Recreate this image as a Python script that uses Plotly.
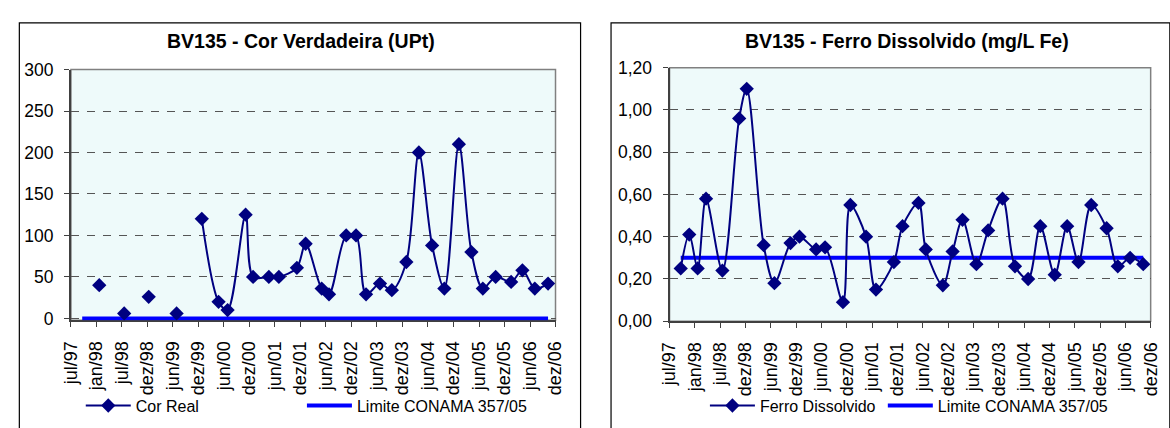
import pandas as pd
import plotly.graph_objects as go

# Sampling dates shared by both parameters
datas = [
    "1997-09-19", "1997-11-19", "1998-01-18", "1998-03-19", "1998-07-14",
    "1998-11-11", "1999-01-04", "1999-05-05", "1999-07-21", "1999-11-13",
    "2000-01-16", "2000-05-14", "2000-07-17", "2000-11-22", "2001-01-14",
    "2001-05-06", "2001-07-16", "2001-11-21", "2002-01-22", "2002-05-16",
    "2002-07-07", "2002-11-06", "2003-01-15", "2003-03-27", "2003-07-04",
    "2003-09-26", "2004-01-07", "2004-04-05", "2004-07-08", "2004-10-03",
    "2005-01-14", "2005-04-13", "2005-07-03", "2005-10-02", "2006-01-20",
    "2006-04-10", "2006-07-07", "2006-10-09",
]

# Cor verdadeira (UPt); None = not measured
cor_real = [
    None, None, 40, None, 6, None, 26, None, 6, None,
    120, 20, 10, 125, 50, 50, 50, 61, 90, 36,
    29, 100, 100, 29, 42, 34, 68, 200, 88, 36,
    210, 80, 36, 50, 44, 58, 36, 42,
]

# Ferro dissolvido (mg/L Fe)
ferro_dissolvido = [
    0.25, 0.41, 0.25, 0.58, 0.24, 0.96, 1.10, 0.36, 0.18, 0.37,
    0.40, 0.34, 0.35, 0.09, 0.55, 0.40, 0.15, 0.28, 0.45, 0.56,
    0.34, 0.17, 0.33, 0.48, 0.27, 0.43, 0.58, 0.26, 0.20, 0.45,
    0.22, 0.45, 0.28, 0.55, 0.44, 0.26, 0.30, 0.27,
]

# CONAMA 357/05 limits as plotted
limite_cor = [0] * len(datas)
limite_ferro = [0.30] * len(datas)

# Axis labels
rotulos_x = [
    "jul/97", "jan/98", "jul/98", "dez/98", "jun/99", "dez/99", "jun/00",
    "dez/00", "jun/01", "dez/01", "jun/02", "dez/02", "jun/03", "dez/03",
    "jun/04", "dez/04", "jun/05", "dez/05", "jun/06", "dez/06",
]
ticks_cor = [0, 50, 100, 150, 200, 250, 300]
ticks_ferro = [0, 0.2, 0.4, 0.6, 0.8, 1.0, 1.2]
rotulos_ferro = ["0,00", "0,20", "0,40", "0,60", "0,80", "1,00", "1,20"]

W, H = 1170, 428
FONT = "Liberation Sans, Arial, sans-serif"
NAVY = "#000080"
BLUE = "#0000FF"
BG = "#EEFAFA"

# Evenly spaced date ticks between the first and last label
inicio = pd.Timestamp("1997-07-01")
fim = pd.Timestamp("2006-12-01")
passo = (fim - inicio) / (len(rotulos_x) - 1)
ticks_x = [(inicio + i * passo).strftime("%Y-%m-%d %H:%M") for i in range(len(rotulos_x))]


def px_x(v):
    return v / W


def px_y(v):
    return (H - v) / H


fig = go.Figure()

# ---- left panel: Cor Verdadeira ----
fig.add_trace(go.Scatter(
    x=datas, y=limite_cor, mode="lines", name="Limite CONAMA 357/05",
    line=dict(color=BLUE, width=4), xaxis="x", yaxis="y",
    legend="legend2", hoverinfo="skip",
))
fig.add_trace(go.Scatter(
    x=datas, y=cor_real, mode="lines+markers", name="Cor Real",
    line=dict(color=NAVY, width=2, shape="spline", smoothing=0.9),
    marker=dict(symbol="diamond", size=11, color=NAVY),
    connectgaps=False, xaxis="x", yaxis="y",
    legend="legend", cliponaxis=False,
))

# ---- right panel: Ferro Dissolvido ----
fig.add_trace(go.Scatter(
    x=datas, y=limite_ferro, mode="lines", name="Limite CONAMA 357/05",
    line=dict(color=BLUE, width=4), xaxis="x2", yaxis="y2",
    legend="legend4", hoverinfo="skip",
))
fig.add_trace(go.Scatter(
    x=datas, y=ferro_dissolvido, mode="lines+markers", name="Ferro Dissolvido",
    line=dict(color=NAVY, width=2, shape="spline", smoothing=0.9),
    marker=dict(symbol="diamond", size=11, color=NAVY),
    xaxis="x2", yaxis="y2",
    legend="legend3",
))

# plot-area geometry (pixels); the left panel reaches a little below zero
# so the full width of the limit line at 0 stays visible
L1, R1, T1, B1 = 62, 555, 62.5, 325.5
Y1_MIN = -2.3
L2, R2, T2, B2 = 671, 1160.5, 60.5, 326.5

xcommon = dict(
    type="date", tickvals=ticks_x, ticktext=rotulos_x, tickangle=-90,
    range=[ticks_x[0], ticks_x[-1]], showgrid=False, zeroline=False,
    ticks="outside", ticklen=5, tickwidth=1, tickcolor="#404040",
    showline=True, linecolor="#404040", linewidth=1.5,
    ticklabelstandoff=7, layer="below traces",
    tickfont=dict(family=FONT, size=18, color="black"),
)
ycommon = dict(
    showgrid=True, gridcolor="#555555", gridwidth=1.3, griddash="8px,8px",
    zeroline=False, ticks="outside", ticklen=5, tickwidth=1,
    tickcolor="#404040", showline=True, linecolor="#404040", linewidth=2,
    ticklabelstandoff=7,
    tickfont=dict(family=FONT, size=17.5, color="black"),
)


def legenda(x_px):
    return dict(
        orientation="h", x=px_x(x_px), xanchor="left", y=px_y(415),
        yanchor="middle", font=dict(family=FONT, size=16, color="black"),
        bgcolor="rgba(0,0,0,0)", itemwidth=45,
    )


fig.update_layout(
    width=W, height=H,
    margin=dict(l=0, r=0, t=0, b=0),
    paper_bgcolor="white",
    plot_bgcolor=BG,
    showlegend=True,
    xaxis=dict(xcommon, domain=[px_x(L1), px_x(R1)], anchor="y"),
    yaxis=dict(ycommon, domain=[px_y(B1), px_y(T1)], anchor="x",
               range=[Y1_MIN, 300], tickvals=ticks_cor,
               ticktext=[str(v) for v in ticks_cor]),
    xaxis2=dict(xcommon, domain=[px_x(L2), px_x(R2)], anchor="y2"),
    yaxis2=dict(ycommon, domain=[px_y(B2), px_y(T2)], anchor="x2",
                range=[0, 1.2], tickvals=ticks_ferro, ticktext=rotulos_ferro),
    legend=legenda(72),
    legend2=legenda(297),
    legend3=legenda(707),
    legend4=legenda(888),
    annotations=[
        dict(text="<b>BV135 - Cor Verdadeira (UPt)</b>", x=px_x(296), y=px_y(32),
             xref="paper", yref="paper", xanchor="center", yanchor="middle",
             showarrow=False, font=dict(family=FONT, size=19.5, color="black")),
        dict(text="<b>BV135 - Ferro Dissolvido (mg/L Fe)</b>", x=px_x(913), y=px_y(32),
             xref="paper", yref="paper", xanchor="center", yanchor="middle",
             showarrow=False, font=dict(family=FONT, size=19.5, color="black")),
    ],
    shapes=[
        # chart frames
        dict(type="rect", xref="paper", yref="paper",
             x0=px_x(9.5), x1=px_x(580.5), y0=px_y(440), y1=px_y(13.5),
             line=dict(color="black", width=1.2), layer="below"),
        dict(type="rect", xref="paper", yref="paper",
             x0=px_x(611.5), x1=px_x(1180), y0=px_y(440), y1=px_y(13.5),
             line=dict(color="black", width=1.2), layer="below"),
        # plot-area borders (top / right)
        dict(type="rect", xref="paper", yref="paper",
             x0=px_x(L1), x1=px_x(R1), y0=px_y(B1), y1=px_y(T1),
             line=dict(color="#808080", width=1.5), layer="below"),
        dict(type="rect", xref="paper", yref="paper",
             x0=px_x(L2), x1=px_x(R2), y0=px_y(B2), y1=px_y(T2),
             line=dict(color="#808080", width=1.5), layer="below"),
    ],
)

fig.write_html("out.html")
